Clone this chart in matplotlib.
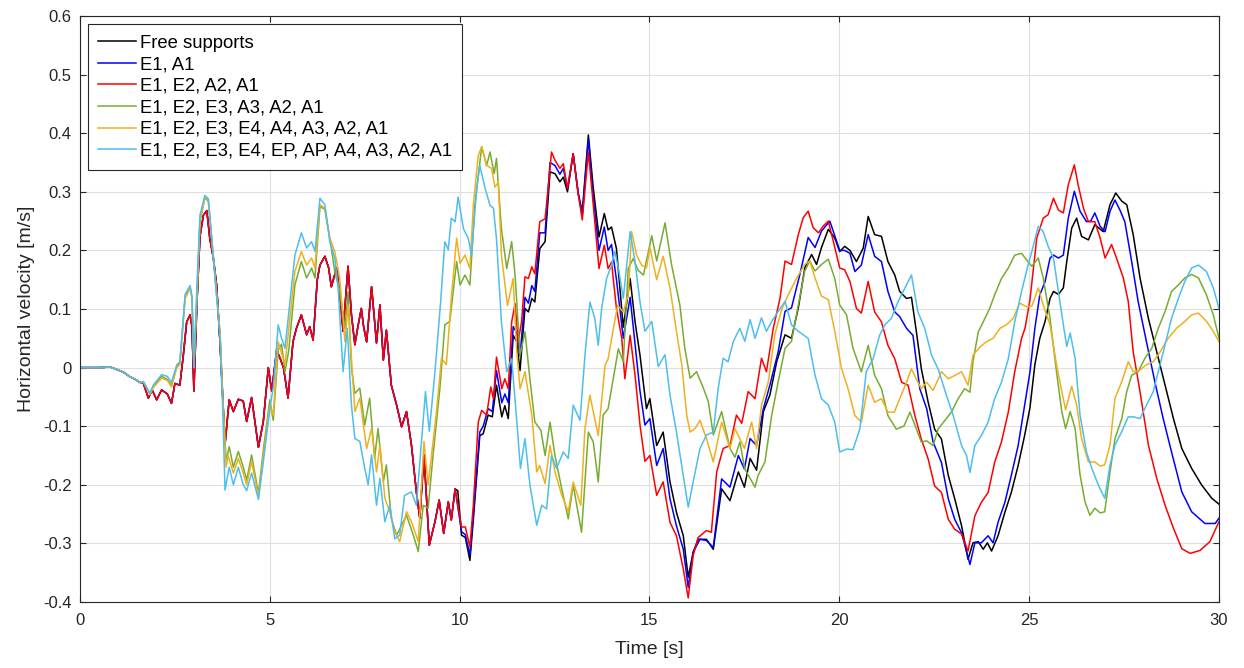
import numpy as np
import matplotlib
matplotlib.use("Agg")
import matplotlib.pyplot as plt
from matplotlib.ticker import FuncFormatter

plt.rcParams['font.family'] = ['Liberation Sans', 'DejaVu Sans']
plt.rcParams['axes.unicode_minus'] = False

# ---------------- data ----------------
labels = ["Free supports", "E1, A1", "E1, E2, A2, A1", "E1, E2, E3, A3, A2, A1",
          "E1, E2, E3, E4, A4, A3, A2, A1",
          "E1, E2, E3, E4, EP, AP, A4, A3, A2, A1"]

# common start (all configurations)
t_start = [0.0, 0.5, 0.8, 1.0, 1.15, 1.3, 1.45, 1.6]
v_start = [0.0, 0.0, 0.001, -0.004, -0.008, -0.015, -0.02, -0.026]

# shared early part of Free supports / E1,A1 / E1,E2,A2,A1
t_a_early = [1.67, 1.8, 1.9, 2.02, 2.15, 2.3, 2.41, 2.5, 2.63, 2.72, 2.81, 2.9, 2.95, 3.0, 3.08, 3.16, 3.25,
             3.34, 3.42, 3.51, 3.6, 3.69, 3.75, 3.82, 3.93, 4.04, 4.17, 4.3, 4.39, 4.52, 4.7, 4.83, 4.96,
             5.05, 5.18, 5.27, 5.36, 5.48, 5.61, 5.7, 5.83, 5.97, 6.05, 6.14, 6.25, 6.32, 6.45, 6.55, 6.62,
             6.76, 6.85, 6.93, 7.06, 7.15, 7.24, 7.32, 7.41, 7.47, 7.55, 7.68, 7.81, 7.9, 7.99, 8.07, 8.2,
             8.34, 8.47, 8.6, 8.73, 8.86, 8.95, 9.06, 9.2, 9.35, 9.46, 9.58, 9.7, 9.78]
v_a_early = [-0.027, -0.052, -0.038, -0.055, -0.038, -0.045, -0.061, -0.027, -0.03, 0.02, 0.078, 0.09, 0.07,
             -0.04, 0.11, 0.224, 0.26, 0.268, 0.22, 0.188, 0.14, 0.04, -0.04, -0.131, -0.055, -0.075,
             -0.054, -0.057, -0.092, -0.051, -0.136, -0.091, 0.0, -0.04, 0.03, 0.016, 0.0, -0.052, 0.044,
             0.067, 0.09, 0.056, 0.07, 0.047, 0.15, 0.175, 0.19, 0.17, 0.138, 0.17, 0.12, 0.062, 0.173,
             0.09, 0.039, 0.07, 0.101, 0.07, 0.044, 0.138, 0.042, 0.107, 0.013, 0.064, -0.03, -0.064,
             -0.101, -0.075, -0.132, -0.212, -0.257, -0.149, -0.303, -0.263, -0.226, -0.283, -0.229, -0.26]

t_black = [9.88, 9.95, 10.05, 10.15, 10.27, 10.36, 10.53, 10.62, 10.75, 10.86, 10.97, 11.11, 11.19, 11.28,
           11.41, 11.5, 11.59, 11.72, 11.81, 11.9, 11.98, 12.11, 12.25, 12.38, 12.51, 12.64, 12.73, 12.84,
           12.99, 13.12, 13.23, 13.39, 13.52, 13.67, 13.81, 13.91, 14.0, 14.13, 14.31, 14.49, 14.62, 14.75,
           14.92, 15.01, 15.19, 15.36, 15.54, 15.71, 15.89, 16.02, 16.15, 16.28, 16.5, 16.68, 16.9, 17.12,
           17.34, 17.5, 17.65, 17.82, 18.0, 18.17, 18.35, 18.57, 18.74, 18.92, 19.09, 19.27, 19.4, 19.53,
           19.71, 19.88, 20.01, 20.14, 20.28, 20.45, 20.63, 20.76, 20.93, 21.11, 21.28, 21.46, 21.59, 21.77,
           21.9, 22.03, 22.16, 22.34, 22.51, 22.69, 22.87, 23.04, 23.22, 23.39, 23.52, 23.66, 23.79, 23.9,
           24.01, 24.18, 24.36, 24.53, 24.71, 24.88, 25.02, 25.15, 25.28, 25.42, 25.55, 25.64, 25.77, 25.9,
           25.99, 26.12, 26.25, 26.38, 26.56, 26.73, 26.95, 27.13, 27.28, 27.44, 27.57, 27.74, 27.92, 28.14,
           28.36, 28.58, 28.8, 29.02, 29.28, 29.54, 29.81, 30.0]
v_black = [-0.207, -0.21, -0.286, -0.29, -0.329, -0.26, -0.116, -0.113, -0.081, -0.084, -0.03, -0.084,
           -0.065, -0.087, 0.055, 0.045, -0.005, 0.101, 0.095, 0.118, 0.112, 0.203, 0.215, 0.334, 0.331,
           0.317, 0.325, 0.3, 0.365, 0.297, 0.266, 0.397, 0.306, 0.223, 0.263, 0.235, 0.24, 0.203, 0.069,
           0.152, 0.078, 0.021, -0.07, -0.053, -0.133, -0.11, -0.195, -0.247, -0.287, -0.358, -0.315,
           -0.293, -0.293, -0.31, -0.207, -0.227, -0.178, -0.204, -0.155, -0.175, -0.075, -0.047, 0.01,
           0.056, 0.05, 0.102, 0.17, 0.193, 0.176, 0.205, 0.236, 0.221, 0.198, 0.207, 0.2, 0.181, 0.204,
           0.258, 0.227, 0.224, 0.181, 0.158, 0.13, 0.118, 0.12, 0.061, -0.002, -0.059, -0.105, -0.122,
           -0.184, -0.224, -0.27, -0.327, -0.299, -0.297, -0.31, -0.299, -0.313, -0.287, -0.247, -0.213,
           -0.167, -0.116, -0.069, 0.005, 0.05, 0.079, 0.118, 0.13, 0.125, 0.136, 0.181, 0.238, 0.255,
           0.224, 0.218, 0.244, 0.232, 0.278, 0.298, 0.284, 0.278, 0.227, 0.153, 0.084, 0.027, -0.03,
           -0.087, -0.138, -0.172, -0.2, -0.223, -0.233]

t_blue = [9.88, 10.05, 10.15, 10.27, 10.36, 10.53, 10.62, 10.75, 10.86, 10.97, 11.11, 11.19, 11.28, 11.41,
          11.5, 11.59, 11.72, 11.81, 11.9, 11.98, 12.11, 12.25, 12.38, 12.51, 12.64, 12.73, 12.84, 12.99,
          13.12, 13.23, 13.39, 13.52, 13.67, 13.81, 13.91, 14.0, 14.13, 14.31, 14.49, 14.62, 14.75, 14.88,
          15.01, 15.19, 15.36, 15.54, 15.71, 15.89, 16.02, 16.15, 16.33, 16.5, 16.68, 16.9, 17.12, 17.34,
          17.5, 17.65, 17.82, 18.0, 18.17, 18.39, 18.57, 18.74, 18.96, 19.18, 19.36, 19.53, 19.75, 19.88,
          20.01, 20.14, 20.28, 20.41, 20.58, 20.76, 20.93, 21.11, 21.28, 21.46, 21.59, 21.77, 21.94, 22.12,
          22.3, 22.47, 22.69, 22.87, 23.04, 23.22, 23.44, 23.57, 23.74, 23.92, 24.05, 24.18, 24.36, 24.53,
          24.71, 24.88, 25.02, 25.15, 25.28, 25.42, 25.55, 25.64, 25.77, 25.9, 26.03, 26.19, 26.34, 26.51,
          26.62, 26.73, 26.87, 27.0, 27.13, 27.26, 27.39, 27.52, 27.7, 27.87, 28.09, 28.31, 28.53, 28.75,
          29.02, 29.28, 29.63, 29.9, 30.0]
v_blue = [-0.207, -0.28, -0.285, -0.32, -0.25, -0.11, -0.1, -0.07, -0.075, -0.005, -0.06, -0.045, -0.06,
          0.07, 0.06, 0.02, 0.12, 0.11, 0.14, 0.13, 0.23, 0.23, 0.35, 0.345, 0.33, 0.34, 0.305, 0.365, 0.3,
          0.26, 0.39, 0.29, 0.2, 0.24, 0.2, 0.21, 0.15, 0.05, 0.12, 0.04, -0.04, -0.098, -0.087, -0.167,
          -0.138, -0.224, -0.27, -0.31, -0.375, -0.315, -0.293, -0.295, -0.307, -0.19, -0.204, -0.15,
          -0.173, -0.121, -0.133, -0.07, -0.03, 0.027, 0.096, 0.102, 0.159, 0.222, 0.205, 0.233, 0.25,
          0.225, 0.2, 0.2, 0.195, 0.164, 0.175, 0.227, 0.19, 0.181, 0.13, 0.095, 0.087, 0.067, 0.055,
          -0.036, -0.07, -0.127, -0.162, -0.224, -0.259, -0.282, -0.336, -0.299, -0.299, -0.287, -0.299,
          -0.264, -0.23, -0.184, -0.133, -0.065, -0.008, 0.067, 0.124, 0.147, 0.187, 0.192, 0.187, 0.192,
          0.255, 0.301, 0.267, 0.249, 0.25, 0.264, 0.241, 0.232, 0.267, 0.286, 0.269, 0.249, 0.181, 0.113,
          0.044, -0.024, -0.087, -0.144, -0.212, -0.246, -0.266, -0.266, -0.257]

t_red = [9.88, 10.05, 10.15, 10.27, 10.36, 10.49, 10.58, 10.71, 10.82, 10.89, 10.97, 11.11, 11.19, 11.28,
         11.37, 11.46, 11.54, 11.63, 11.72, 11.81, 11.9, 11.98, 12.11, 12.25, 12.33, 12.42, 12.51, 12.64,
         12.73, 12.84, 12.99, 13.12, 13.23, 13.39, 13.52, 13.67, 13.81, 13.91, 14.0, 14.13, 14.27, 14.35,
         14.49, 14.62, 14.75, 14.88, 15.01, 15.19, 15.36, 15.54, 15.71, 15.89, 16.02, 16.15, 16.28, 16.5,
         16.63, 16.77, 16.94, 17.12, 17.29, 17.43, 17.6, 17.78, 17.95, 18.08, 18.26, 18.44, 18.57, 18.74,
         18.92, 19.05, 19.18, 19.31, 19.45, 19.58, 19.71, 19.84, 20.01, 20.14, 20.28, 20.45, 20.58, 20.76,
         20.93, 21.11, 21.28, 21.46, 21.64, 21.81, 21.99, 22.16, 22.34, 22.51, 22.69, 22.87, 23.04, 23.22,
         23.39, 23.57, 23.74, 23.92, 24.09, 24.27, 24.45, 24.62, 24.8, 24.89, 25.02, 25.2, 25.37, 25.5,
         25.64, 25.77, 25.9, 26.03, 26.19, 26.29, 26.43, 26.56, 26.73, 26.87, 27.0, 27.17, 27.3, 27.48,
         27.61, 27.74, 27.92, 28.14, 28.36, 28.58, 28.8, 29.02, 29.24, 29.5, 29.76, 30.0]
v_red = [-0.207, -0.272, -0.272, -0.306, -0.235, -0.093, -0.073, -0.081, -0.033, -0.053, 0.018, -0.036,
         -0.019, -0.036, 0.078, 0.109, 0.044, 0.078, 0.155, 0.152, 0.172, 0.16, 0.249, 0.254, 0.306, 0.368,
         0.354, 0.34, 0.348, 0.306, 0.365, 0.297, 0.252, 0.368, 0.277, 0.169, 0.209, 0.169, 0.18, 0.101,
         0.05, -0.019, 0.055, -0.013, -0.098, -0.16, -0.15, -0.218, -0.195, -0.264, -0.287, -0.344, -0.393,
         -0.321, -0.29, -0.278, -0.281, -0.178, -0.138, -0.133, -0.081, -0.095, -0.041, -0.053, 0.016,
         -0.007, 0.067, 0.119, 0.182, 0.176, 0.227, 0.256, 0.267, 0.239, 0.23, 0.242, 0.25, 0.216, 0.17,
         0.167, 0.147, 0.101, 0.093, 0.147, 0.095, 0.078, 0.038, 0.015, -0.025, -0.03, -0.082, -0.122,
         -0.156, -0.202, -0.213, -0.259, -0.276, -0.284, -0.313, -0.253, -0.23, -0.213, -0.162, -0.127,
         -0.076, -0.007, 0.05, 0.067, 0.115, 0.221, 0.255, 0.261, 0.289, 0.269, 0.264, 0.312, 0.346, 0.312,
         0.272, 0.249, 0.249, 0.221, 0.187, 0.21, 0.187, 0.153, 0.113, 0.027, -0.041, -0.132, -0.189,
         -0.235, -0.274, -0.309, -0.317, -0.312, -0.297, -0.263]

t_green = [1.67, 1.84, 1.93, 2.15, 2.3, 2.41, 2.55, 2.63, 2.77, 2.9, 2.95, 3.0, 3.08, 3.16, 3.29, 3.38, 3.51,
           3.69, 3.76, 3.85, 3.93, 4.04, 4.17, 4.3, 4.39, 4.52, 4.7, 4.83, 5.0, 5.09, 5.22, 5.31, 5.4, 5.5,
           5.66, 5.83, 5.97, 6.1, 6.19, 6.32, 6.45, 6.62, 6.71, 6.84, 6.98, 7.06, 7.15, 7.24, 7.37, 7.5,
           7.63, 7.76, 7.85, 7.99, 8.07, 8.2, 8.34, 8.6, 8.78, 8.91, 9.04, 9.17, 9.3, 9.48, 9.61, 9.74, 9.92,
           10.01, 10.14, 10.27, 10.4, 10.58, 10.71, 10.8, 10.91, 10.97, 11.1, 11.24, 11.37, 11.46, 11.59,
           11.72, 11.85, 11.98, 12.14, 12.25, 12.38, 12.51, 12.69, 12.86, 12.99, 13.21, 13.39, 13.52, 13.65,
           13.78, 13.91, 14.09, 14.18, 14.31, 14.44, 14.57, 14.7, 14.84, 15.06, 15.19, 15.41, 15.58, 15.8,
           15.93, 16.07, 16.24, 16.42, 16.55, 16.68, 16.9, 17.12, 17.25, 17.38, 17.51, 17.78, 17.86, 18.04,
           18.22, 18.39, 18.57, 18.74, 18.92, 19.09, 19.22, 19.36, 19.53, 19.71, 19.88, 20.01, 20.19, 20.36,
           20.58, 20.76, 20.93, 21.11, 21.28, 21.5, 21.7, 21.86, 22.0, 22.16, 22.3, 22.47, 22.6, 22.78,
           22.95, 23.13, 23.3, 23.44, 23.52, 23.66, 23.79, 23.96, 24.09, 24.27, 24.45, 24.62, 24.8, 24.93,
           25.07, 25.24, 25.37, 25.55, 25.72, 25.86, 25.96, 26.08, 26.21, 26.34, 26.47, 26.6, 26.73, 26.87,
           26.99, 27.13, 27.26, 27.44, 27.57, 27.7, 27.87, 28.05, 28.23, 28.4, 28.58, 28.75, 28.93, 29.1,
           29.28, 29.46, 29.67, 29.85, 30.0]
v_green = [-0.024, -0.044, -0.032, -0.015, -0.02, -0.03, 0.002, 0.007, 0.121, 0.138, 0.12, 0.0, 0.12,
           0.25, 0.29, 0.284, 0.19, 0.059, -0.05, -0.16, -0.135, -0.17, -0.143, -0.17, -0.192, -0.149,
           -0.215, -0.14, -0.055, -0.09, 0.03, 0.04, -0.007, 0.03, 0.141, 0.181, 0.153, 0.17, 0.153, 0.275,
           0.27, 0.204, 0.164, 0.132, 0.067, 0.13, 0.0, -0.044, -0.035, -0.098, -0.052, -0.155, -0.104,
           -0.195, -0.166, -0.257, -0.286, -0.252, -0.286, -0.314, -0.235, -0.24, -0.149, -0.035, 0.073,
           0.079, 0.181, 0.141, 0.158, 0.141, 0.277, 0.377, 0.345, 0.368, 0.331, 0.357, 0.237, 0.169, 0.215,
           0.158, 0.021, 0.061, -0.019, -0.093, -0.107, -0.15, -0.093, -0.15, -0.207, -0.258, -0.2, -0.281,
           -0.11, -0.127, -0.195, -0.081, -0.07, -0.002, 0.032, 0.01, 0.169, 0.186, 0.166, 0.158, 0.225,
           0.182, 0.247, 0.176, 0.107, 0.033, -0.018, -0.007, -0.035, -0.058, -0.115, -0.075, -0.138,
           -0.153, -0.127, -0.173, -0.204, -0.184, -0.161, -0.081, -0.024, 0.033, 0.045, 0.107, 0.165,
           0.182, 0.165, 0.176, 0.185, 0.152, 0.107, 0.09, 0.033, -0.007, 0.038, -0.013, -0.036, -0.082,
           -0.105, -0.1, -0.076, -0.1, -0.127, -0.125, -0.133, -0.105, -0.09, -0.076, -0.053, -0.036,
           -0.042, 0.01, 0.061, 0.078, 0.101, 0.124, 0.152, 0.17, 0.192, 0.195, 0.184, 0.173, 0.187, 0.153,
           0.084, -0.007, -0.075, -0.104, -0.075, -0.104, -0.183, -0.229, -0.252, -0.24, -0.248, -0.246,
           -0.178, -0.121, -0.087, -0.041, -0.013, -0.007, 0.016, 0.033, 0.067, 0.096, 0.13, 0.141, 0.153,
           0.159, 0.153, 0.124, 0.09, 0.05]

t_yellow = [1.67, 1.84, 1.93, 2.15, 2.3, 2.41, 2.55, 2.63, 2.77, 2.9, 2.95, 3.0, 3.08, 3.16, 3.29, 3.38,
            3.51, 3.69, 3.76, 3.85, 3.9, 4.04, 4.17, 4.3, 4.39, 4.52, 4.7, 4.83, 5.0, 5.09, 5.22, 5.4, 5.66,
            5.83, 5.97, 6.1, 6.19, 6.32, 6.45, 6.58, 6.71, 6.84, 6.98, 7.06, 7.24, 7.37, 7.55, 7.68, 7.81,
            7.9, 8.03, 8.16, 8.29, 8.42, 8.6, 8.73, 8.91, 9.06, 9.17, 9.39, 9.52, 9.65, 9.78, 9.92, 10.01,
            10.14, 10.27, 10.36, 10.49, 10.58, 10.71, 10.84, 10.93, 11.02, 11.1, 11.26, 11.41, 11.5, 11.59,
            11.72, 11.9, 12.03, 12.11, 12.25, 12.38, 12.51, 12.69, 12.86, 12.99, 13.19, 13.3, 13.43, 13.65,
            13.83, 13.91, 14.05, 14.16, 14.31, 14.44, 14.53, 14.66, 14.79, 14.92, 15.01, 15.19, 15.36,
            15.54, 15.71, 15.85, 15.98, 16.07, 16.2, 16.33, 16.5, 16.68, 16.9, 17.12, 17.25, 17.5, 17.69,
            17.82, 17.95, 18.13, 18.3, 18.48, 18.66, 18.88, 19.09, 19.22, 19.36, 19.53, 19.71, 19.88, 20.06,
            20.23, 20.41, 20.58, 20.76, 20.93, 21.11, 21.28, 21.45, 21.59, 21.77, 21.9, 22.03, 22.16, 22.3,
            22.47, 22.69, 22.87, 23.05, 23.22, 23.39, 23.52, 23.7, 23.87, 24.05, 24.23, 24.4, 24.58, 24.75,
            24.93, 25.07, 25.24, 25.37, 25.55, 25.72, 25.86, 25.96, 26.12, 26.25, 26.38, 26.56, 26.73, 26.87,
            26.99, 27.13, 27.26, 27.44, 27.61, 27.74, 27.92, 28.09, 28.27, 28.45, 28.66, 28.88, 29.1, 29.28,
            29.46, 29.67, 29.85, 30.0]
v_yellow = [-0.024, -0.046, -0.034, -0.018, -0.022, -0.033, 0.0, 0.005, 0.118, 0.135, 0.12, 0.0, 0.12,
            0.25, 0.292, 0.286, 0.19, 0.059, -0.05, -0.17, -0.15, -0.18, -0.155, -0.18, -0.2, -0.16, -0.22,
            -0.15, -0.064, -0.081, 0.044, 0.005, 0.164, 0.198, 0.175, 0.187, 0.17, 0.278, 0.272, 0.221,
            0.198, 0.153, 0.044, 0.107, -0.075, -0.052, -0.138, -0.104, -0.178, -0.132, -0.223, -0.246,
            -0.28, -0.297, -0.246, -0.263, -0.297, -0.126, -0.2, -0.075, 0.016, 0.005, 0.118, 0.221, 0.178,
            0.192, 0.169, 0.277, 0.362, 0.377, 0.345, 0.34, 0.308, 0.317, 0.192, 0.106, 0.152, 0.032,
            -0.036, -0.007, -0.081, -0.178, -0.167, -0.198, -0.133, -0.178, -0.218, -0.246, -0.195, -0.235,
            -0.104, -0.047, -0.116, 0.004, 0.015, 0.067, 0.106, 0.095, 0.124, 0.232, 0.192, 0.175, 0.17,
            0.205, 0.15, 0.19, 0.136, 0.062, 0.005, -0.081, -0.11, -0.104, -0.09, -0.121, -0.161, -0.093,
            -0.138, -0.104, -0.138, -0.093, -0.138, -0.064, -0.024, 0.056, 0.099, 0.125, 0.153, 0.176,
            0.182, 0.153, 0.122, 0.116, 0.062, -0.002, -0.036, -0.082, -0.093, -0.03, -0.059, -0.053,
            -0.076, -0.076, -0.053, -0.025, -0.002, -0.02, -0.036, -0.025, -0.039, -0.007, -0.019, -0.013,
            -0.007, -0.03, 0.021, 0.035, 0.044, 0.05, 0.067, 0.073, 0.084, 0.11, 0.104, 0.105, 0.136, 0.107,
            0.073, 0.005, -0.041, -0.072, -0.032, -0.064, -0.121, -0.161, -0.161, -0.168, -0.166, -0.132,
            -0.052, -0.024, 0.01, -0.007, -0.004, 0.005, 0.01, 0.027, 0.05, 0.067, 0.079, 0.09, 0.093,
            0.079, 0.062, 0.044]

t_cyan = [1.67, 1.84, 1.93, 2.15, 2.3, 2.41, 2.55, 2.63, 2.77, 2.9, 2.95, 3.0, 3.08, 3.16, 3.29, 3.38, 3.51,
          3.69, 3.76, 3.82, 3.93, 4.04, 4.17, 4.3, 4.39, 4.52, 4.7, 4.83, 5.0, 5.1, 5.22, 5.31, 5.4, 5.66,
          5.83, 5.97, 6.1, 6.19, 6.32, 6.45, 6.58, 6.71, 6.8, 6.93, 7.04, 7.15, 7.24, 7.37, 7.5, 7.59,
          7.68, 7.81, 7.9, 8.03, 8.16, 8.29, 8.42, 8.55, 8.73, 8.86, 9.0, 9.1, 9.2, 9.35, 9.5, 9.61, 9.7,
          9.78, 9.88, 9.96, 10.1, 10.23, 10.31, 10.45, 10.53, 10.67, 10.8, 10.89, 10.97, 11.1, 11.24,
          11.37, 11.5, 11.6, 11.72, 11.85, 12.03, 12.16, 12.29, 12.42, 12.55, 12.73, 12.86, 12.99, 13.17,
          13.3, 13.43, 13.56, 13.65, 13.74, 13.87, 14.0, 14.09, 14.18, 14.31, 14.49, 14.62, 14.75, 14.88,
          15.06, 15.23, 15.41, 15.54, 15.71, 15.89, 16.02, 16.15, 16.33, 16.5, 16.68, 16.81, 16.94, 17.07,
          17.21, 17.38, 17.51, 17.65, 17.78, 17.95, 18.08, 18.22, 18.39, 18.57, 18.74, 18.92, 19.18,
          19.36, 19.53, 19.71, 19.88, 20.01, 20.19, 20.36, 20.54, 20.71, 20.89, 21.06, 21.2, 21.37, 21.55,
          21.72, 21.9, 22.07, 22.25, 22.43, 22.6, 22.82, 23.0, 23.22, 23.35, 23.44, 23.57, 23.74, 23.92,
          24.09, 24.27, 24.45, 24.62, 24.8, 24.97, 25.07, 25.24, 25.37, 25.5, 25.64, 25.77, 25.9, 25.99,
          26.08, 26.21, 26.34, 26.51, 26.65, 26.82, 26.99, 27.13, 27.26, 27.44, 27.61, 27.74, 27.92,
          28.09, 28.27, 28.4, 28.58, 28.75, 28.93, 29.1, 29.28, 29.46, 29.67, 29.85, 30.0]
v_cyan = [-0.024, -0.044, -0.03, -0.012, -0.015, -0.025, 0.005, 0.01, 0.125, 0.14, 0.12, 0.0, 0.14, 0.26,
          0.294, 0.288, 0.19, 0.05, -0.07, -0.209, -0.17, -0.2, -0.17, -0.2, -0.21, -0.18, -0.225, -0.16,
          -0.07, -0.03, 0.073, 0.05, 0.033, 0.192, 0.23, 0.204, 0.215, 0.198, 0.289, 0.278, 0.215, 0.187,
          0.135, -0.007, 0.067, -0.064, -0.121, -0.126, -0.172, -0.2, -0.149, -0.235, -0.189, -0.263,
          -0.235, -0.292, -0.286, -0.218, -0.212, -0.235, -0.121, -0.041, -0.109, -0.007, 0.113, 0.215,
          0.201, 0.255, 0.249, 0.291, 0.237, 0.22, 0.192, 0.306, 0.345, 0.306, 0.277, 0.272, 0.22, 0.078,
          -0.007, 0.015, -0.087, -0.172, -0.121, -0.2, -0.269, -0.235, -0.241, -0.15, -0.172, -0.144,
          -0.155, -0.064, -0.09, 0.021, 0.112, 0.084, 0.038, 0.101, 0.152, 0.175, 0.198, 0.17, 0.118,
          0.232, 0.18, 0.112, 0.062, 0.079, 0.002, 0.022, -0.047, -0.11, -0.184, -0.238, -0.195, -0.138,
          -0.115, -0.11, -0.035, 0.016, 0.01, 0.045, 0.067, 0.045, 0.082, 0.05, 0.085, 0.062, 0.079, 0.096,
          0.113, 0.073, 0.062, 0.05, -0.013, -0.053, -0.064, -0.093, -0.144, -0.139, -0.14, -0.105, -0.007,
          0.015, 0.055, 0.073, 0.084, 0.113, 0.135, 0.158, 0.095, 0.067, 0.021, -0.002, -0.047, -0.082,
          -0.133, -0.15, -0.179, -0.133, -0.116, -0.093, -0.053, -0.025, 0.015, 0.078, 0.13, 0.175, 0.198,
          0.241, 0.232, 0.207, 0.187, 0.13, 0.073, 0.036, 0.059, 0.016, -0.081, -0.144, -0.172, -0.2,
          -0.223, -0.166, -0.132, -0.109, -0.084, -0.084, -0.087, -0.064, -0.041, -0.007, 0.039, 0.084,
          0.118, 0.147, 0.17, 0.175, 0.164, 0.136, 0.101]

x_ticks = [0, 5, 10, 15, 20, 25, 30]
y_ticks = [-0.4, -0.3, -0.2, -0.1, 0.0, 0.1, 0.2, 0.3, 0.4, 0.5, 0.6]

colors = ["#000000", "#0000ff", "#ff0000", "#77ac30", "#edb120", "#4dbeee"]

# ---------------- assemble ----------------
t_black_full = t_start + t_a_early + t_black
v_black_full = v_start + v_a_early + v_black
t_blue_full = t_start + t_a_early + t_blue
v_blue_full = v_start + v_a_early + v_blue
t_red_full = t_start + t_a_early + t_red
v_red_full = v_start + v_a_early + v_red
t_green_full = t_start + t_green
v_green_full = v_start + v_green
t_yellow_full = t_start + t_yellow
v_yellow_full = v_start + v_yellow
t_cyan_full = t_start + t_cyan
v_cyan_full = v_start + v_cyan

series = [(t_black_full, v_black_full), (t_blue_full, v_blue_full), (t_red_full, v_red_full),
          (t_green_full, v_green_full), (t_yellow_full, v_yellow_full), (t_cyan_full, v_cyan_full)]

# ---------------- plot ----------------
fig = plt.figure(figsize=(12.44, 6.68), dpi=100)
ax = fig.add_axes([0.0643, 0.0988, 0.9156, 0.8772])

for (tt, vv), c, lab in zip(series, colors, labels):
    ax.plot(tt, vv, color=c, lw=1.1, label=lab)

ax.set_xlim(0, 30)
ax.set_ylim(-0.4, 0.6)
ax.set_xticks(x_ticks)
ax.set_yticks(y_ticks)
ax.yaxis.set_major_formatter(FuncFormatter(lambda v, p: "0" if abs(v) < 1e-9 else f"{v:.1f}"))
ax.grid(True, color="#dfdfdf", lw=0.8)
ax.set_axisbelow(True)
txtc = "#262626"
ax.tick_params(direction="in", top=True, right=True, length=4, width=0.8, colors=txtc,
               labelsize=12, labelcolor=txtc, pad=6)
ax.tick_params(axis="x", pad=8)
for s in ax.spines.values():
    s.set_color(txtc)
    s.set_linewidth(0.8)
ax.set_xlabel("Time [s]", fontsize=14, color=txtc, labelpad=9)
ax.set_ylabel("Horizontal velocity [m/s]", fontsize=14, color=txtc, labelpad=6)

leg = ax.legend(loc="upper left", fontsize=13.3, frameon=True, fancybox=False, framealpha=1,
                edgecolor="#262626", handlelength=2.05, handletextpad=0.2, borderpad=0.55,
                labelspacing=0.25, borderaxespad=0.45)
leg.get_frame().set_linewidth(0.8)

fig.savefig("out.png", dpi=100)
